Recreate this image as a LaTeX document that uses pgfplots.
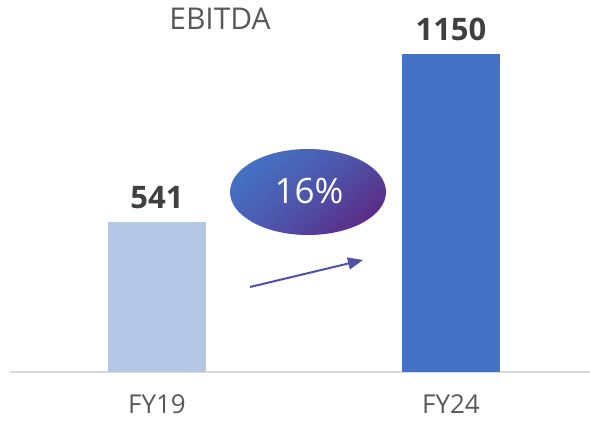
\documentclass[border=0pt]{standalone}
\usepackage{pgfplots}
\pgfplotsset{compat=1.18}
\usepackage{fontspec}
\setmainfont{Open Sans}
\usetikzlibrary{arrows.meta}
\definecolor{lightbar}{HTML}{B4C7E7}
\definecolor{darkbar}{HTML}{4472C4}
\definecolor{purp}{HTML}{5B2C87}
\definecolor{txtgray}{HTML}{595959}
\definecolor{numgray}{HTML}{404040}
\definecolor{axgray}{HTML}{D9D9D9}
\begin{document}
\begin{tikzpicture}[x=1pt,y=1pt]
\useasboundingbox (0,0) rectangle (590,422);
\begin{axis}[
  at={(10pt,50pt)}, anchor=south west,
  scale only axis, width=580pt, height=372pt,
  xmin=-0.5, xmax=1.473, ymin=0, ymax=1345,
  axis x line=bottom, axis y line=none,
  x axis line style={-, draw=axgray, line width=1.5pt},
  xtick={0,1}, xticklabels={FY19,FY24},
  major tick length=0pt,
  xticklabel style={font=\fontsize{26}{30}\selectfont, text=txtgray, yshift=-19pt},
  ytick=\empty,
  clip=false,
  point meta=explicit symbolic,
  nodes near coords,
  every node near coord/.append style={font=\fontsize{31}{36}\selectfont\bfseries, text=numgray, yshift=10pt},
]
\addplot[ybar, bar shift=0pt, bar width=98pt, fill=lightbar, draw=none] coordinates {(0,541)[541]};
\addplot[ybar, bar shift=0pt, bar width=98pt, fill=darkbar, draw=none] coordinates {(1,1150)[1150]};
\end{axis}
\node[text=txtgray, font=\fontsize{30}{34}\selectfont] at (220,403) {EBITDA};
\shade[top color=darkbar, bottom color=purp, middle color=darkbar!60!purp, shading angle=40] (308,230) ellipse [x radius=78, y radius=43];
\node[text=white, font=\fontsize{35}{40}\selectfont] at (309,231) {16\%};
\draw[line width=2pt, color=darkbar!55!purp, -{Triangle[length=15pt,width=12pt]}] (250,135) -- (363,162);
\end{tikzpicture}
\end{document}
